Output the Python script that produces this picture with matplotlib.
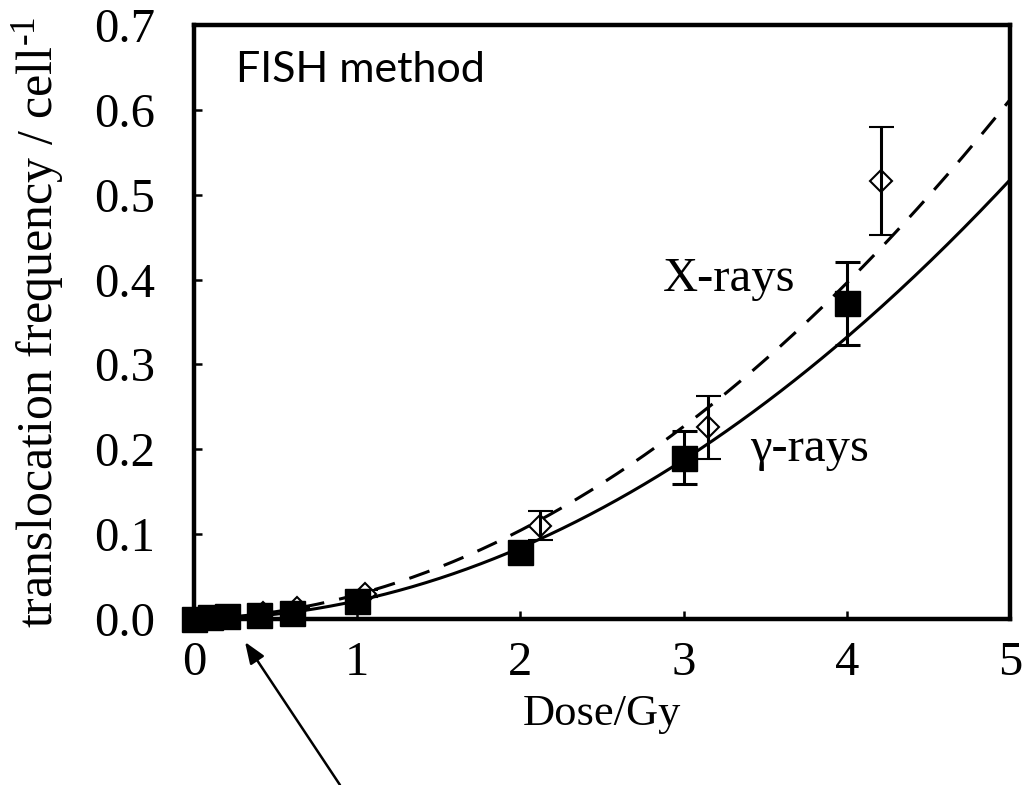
import numpy as np
import matplotlib
matplotlib.use("Agg")
import matplotlib.pyplot as plt

# ---- data ----
gamma_dose = [0.0, 0.1, 0.2, 0.4, 0.6, 1.0, 2.0, 3.0, 4.0]
gamma_freq = [0.000, 0.002, 0.003, 0.005, 0.007, 0.021, 0.079, 0.190, 0.372]
gamma_err = [0.0, 0.0, 0.0, 0.0, 0.0, 0.003, 0.006, 0.031, 0.049]

xray_dose = [0.42, 0.63, 1.05, 2.12, 3.15, 4.21]
xray_freq = [0.007, 0.013, 0.030, 0.110, 0.226, 0.516]
xray_err = [0.0, 0.0, 0.004, 0.017, 0.037, 0.064]

# linear-quadratic fit coefficients (Y = alpha*D + beta*D^2)
gamma_alpha, gamma_beta = 0.001, 0.0205
xray_alpha, xray_beta = 0.0054, 0.0234

x_ticks = [0, 1, 2, 3, 4, 5]
y_ticks = [0.0, 0.1, 0.2, 0.3, 0.4, 0.5, 0.6, 0.7]

plt.rcParams['font.family'] = ['Liberation Serif', 'DejaVu Serif']
plt.rcParams['mathtext.fontset'] = 'custom'
plt.rcParams['mathtext.rm'] = 'Liberation Serif'
plt.rcParams['mathtext.it'] = 'Liberation Serif:italic'
plt.rcParams['mathtext.bf'] = 'Liberation Serif:bold'

fig = plt.figure(figsize=(10.25, 7.85), dpi=100)
ax = fig.add_axes([0.1893, 0.2115, 0.7961, 0.7567])

d = np.linspace(0, 5, 300)
ax.plot(d, gamma_alpha * d + gamma_beta * d ** 2, color='black', lw=2.2, zorder=2)
ax.plot(d, xray_alpha * d + xray_beta * d ** 2, color='black', lw=2.2,
        dashes=(7, 5), zorder=2)

ax.errorbar(xray_dose, xray_freq, yerr=xray_err, fmt='D', mfc='none', mec='black',
            mew=1.5, ms=11, ecolor='black', elinewidth=2.2, capsize=9, capthick=2.2,
            zorder=3, clip_on=False)
ax.errorbar(gamma_dose, gamma_freq, yerr=gamma_err, fmt='s', mfc='black', mec='black',
            ms=18, ecolor='black', elinewidth=2.2, capsize=9, capthick=2.2, zorder=4,
            clip_on=False)

ax.set_xlim(0, 5)
ax.set_ylim(0, 0.7)
ax.set_xticks(x_ticks)
ax.set_xticklabels([str(v) for v in x_ticks])
ax.set_yticks(y_ticks)
ax.set_yticklabels([f"{v:.1f}" for v in y_ticks])
ax.tick_params(direction='in', length=6, width=1.8, labelsize=35)
ax.tick_params(axis='x', pad=16)
ax.tick_params(axis='y', pad=28)
for s in ax.spines.values():
    s.set_linewidth(3.2)

ax.set_xlabel('Dose/Gy', fontsize=32, labelpad=6)
ax.set_ylabel('translocation frequency / cell$^{\\text{-1}}$', fontsize=36, labelpad=20)

ax.text(2.87, 0.401, 'X-rays', fontsize=35, ha='left', va='center')
ax.text(3.41, 0.200, 'γ-rays', fontsize=35, ha='left', va='center')
ax.text(0.26, 0.647, 'FISH method', fontsize=31, ha='left', va='center',
        family=['Lato', 'DejaVu Sans'])

ax.annotate('', xy=(245 / 1025, 1 - 642 / 785), xycoords='figure fraction',
            xytext=(340 / 1025, 0.0), textcoords='figure fraction',
            arrowprops=dict(arrowstyle='-|>,head_length=1.3,head_width=0.5',
                            color='black', lw=1.8, shrinkA=0, shrinkB=0))

fig.savefig('out.png', dpi=100)
